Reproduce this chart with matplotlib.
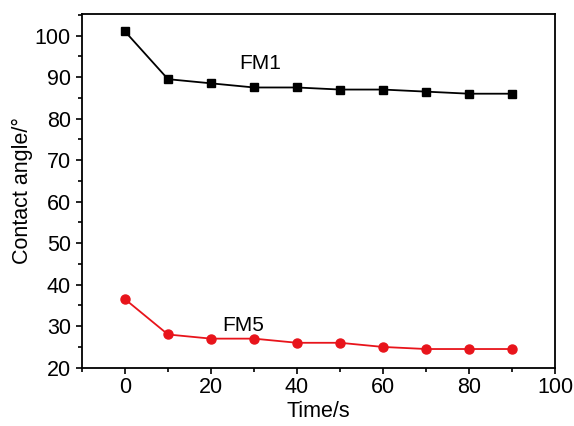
import matplotlib
matplotlib.use("Agg")
from matplotlib import pyplot as plt
from matplotlib.ticker import MultipleLocator

time_s = [0, 10, 20, 30, 40, 50, 60, 70, 80, 90]
fm1 = [101, 89.5, 88.5, 87.5, 87.5, 87, 87, 86.5, 86, 86]
fm5 = [36.5, 28, 27, 27, 26, 26, 25, 24.5, 24.5, 24.5]

plt.rcParams['font.family'] = ['Liberation Sans', 'DejaVu Sans']
plt.rcParams['font.size'] = 15.5

fig = plt.figure(figsize=(5.74, 4.26), dpi=100)
ax = fig.add_axes([82 / 574, 1 - 367.7 / 426, (555 - 82) / 574, (367.7 - 14) / 426])

ax.plot(time_s, fm1, color='black', marker='s', markersize=6, linewidth=1.3)
ax.plot(time_s, fm5, color='#e8141b', marker='o', markersize=6.5, linewidth=1.3)

ax.text(31.5, 93.3, "FM1", ha='center', va='center', fontsize=15)
ax.text(27.5, 30.2, "FM5", ha='center', va='center', fontsize=15)

ax.set_xlim(-10, 100)
ax.set_ylim(20, 105.2)
ax.xaxis.set_major_locator(MultipleLocator(20))
ax.xaxis.set_minor_locator(MultipleLocator(10))
ax.yaxis.set_major_locator(MultipleLocator(10))
ax.yaxis.set_minor_locator(MultipleLocator(5))
ax.tick_params(which='major', direction='out', length=4, width=1.2)
ax.tick_params(which='minor', direction='out', length=3, width=1.2)
ax.tick_params(axis='x', pad=3)
ax.tick_params(axis='y', pad=4)
for s in ax.spines.values():
    s.set_linewidth(1.3)

ax.set_xlabel("Time/s", labelpad=2)
ax.set_ylabel("Contact angle/°", labelpad=1)

fig.savefig("out.png", dpi=100)
